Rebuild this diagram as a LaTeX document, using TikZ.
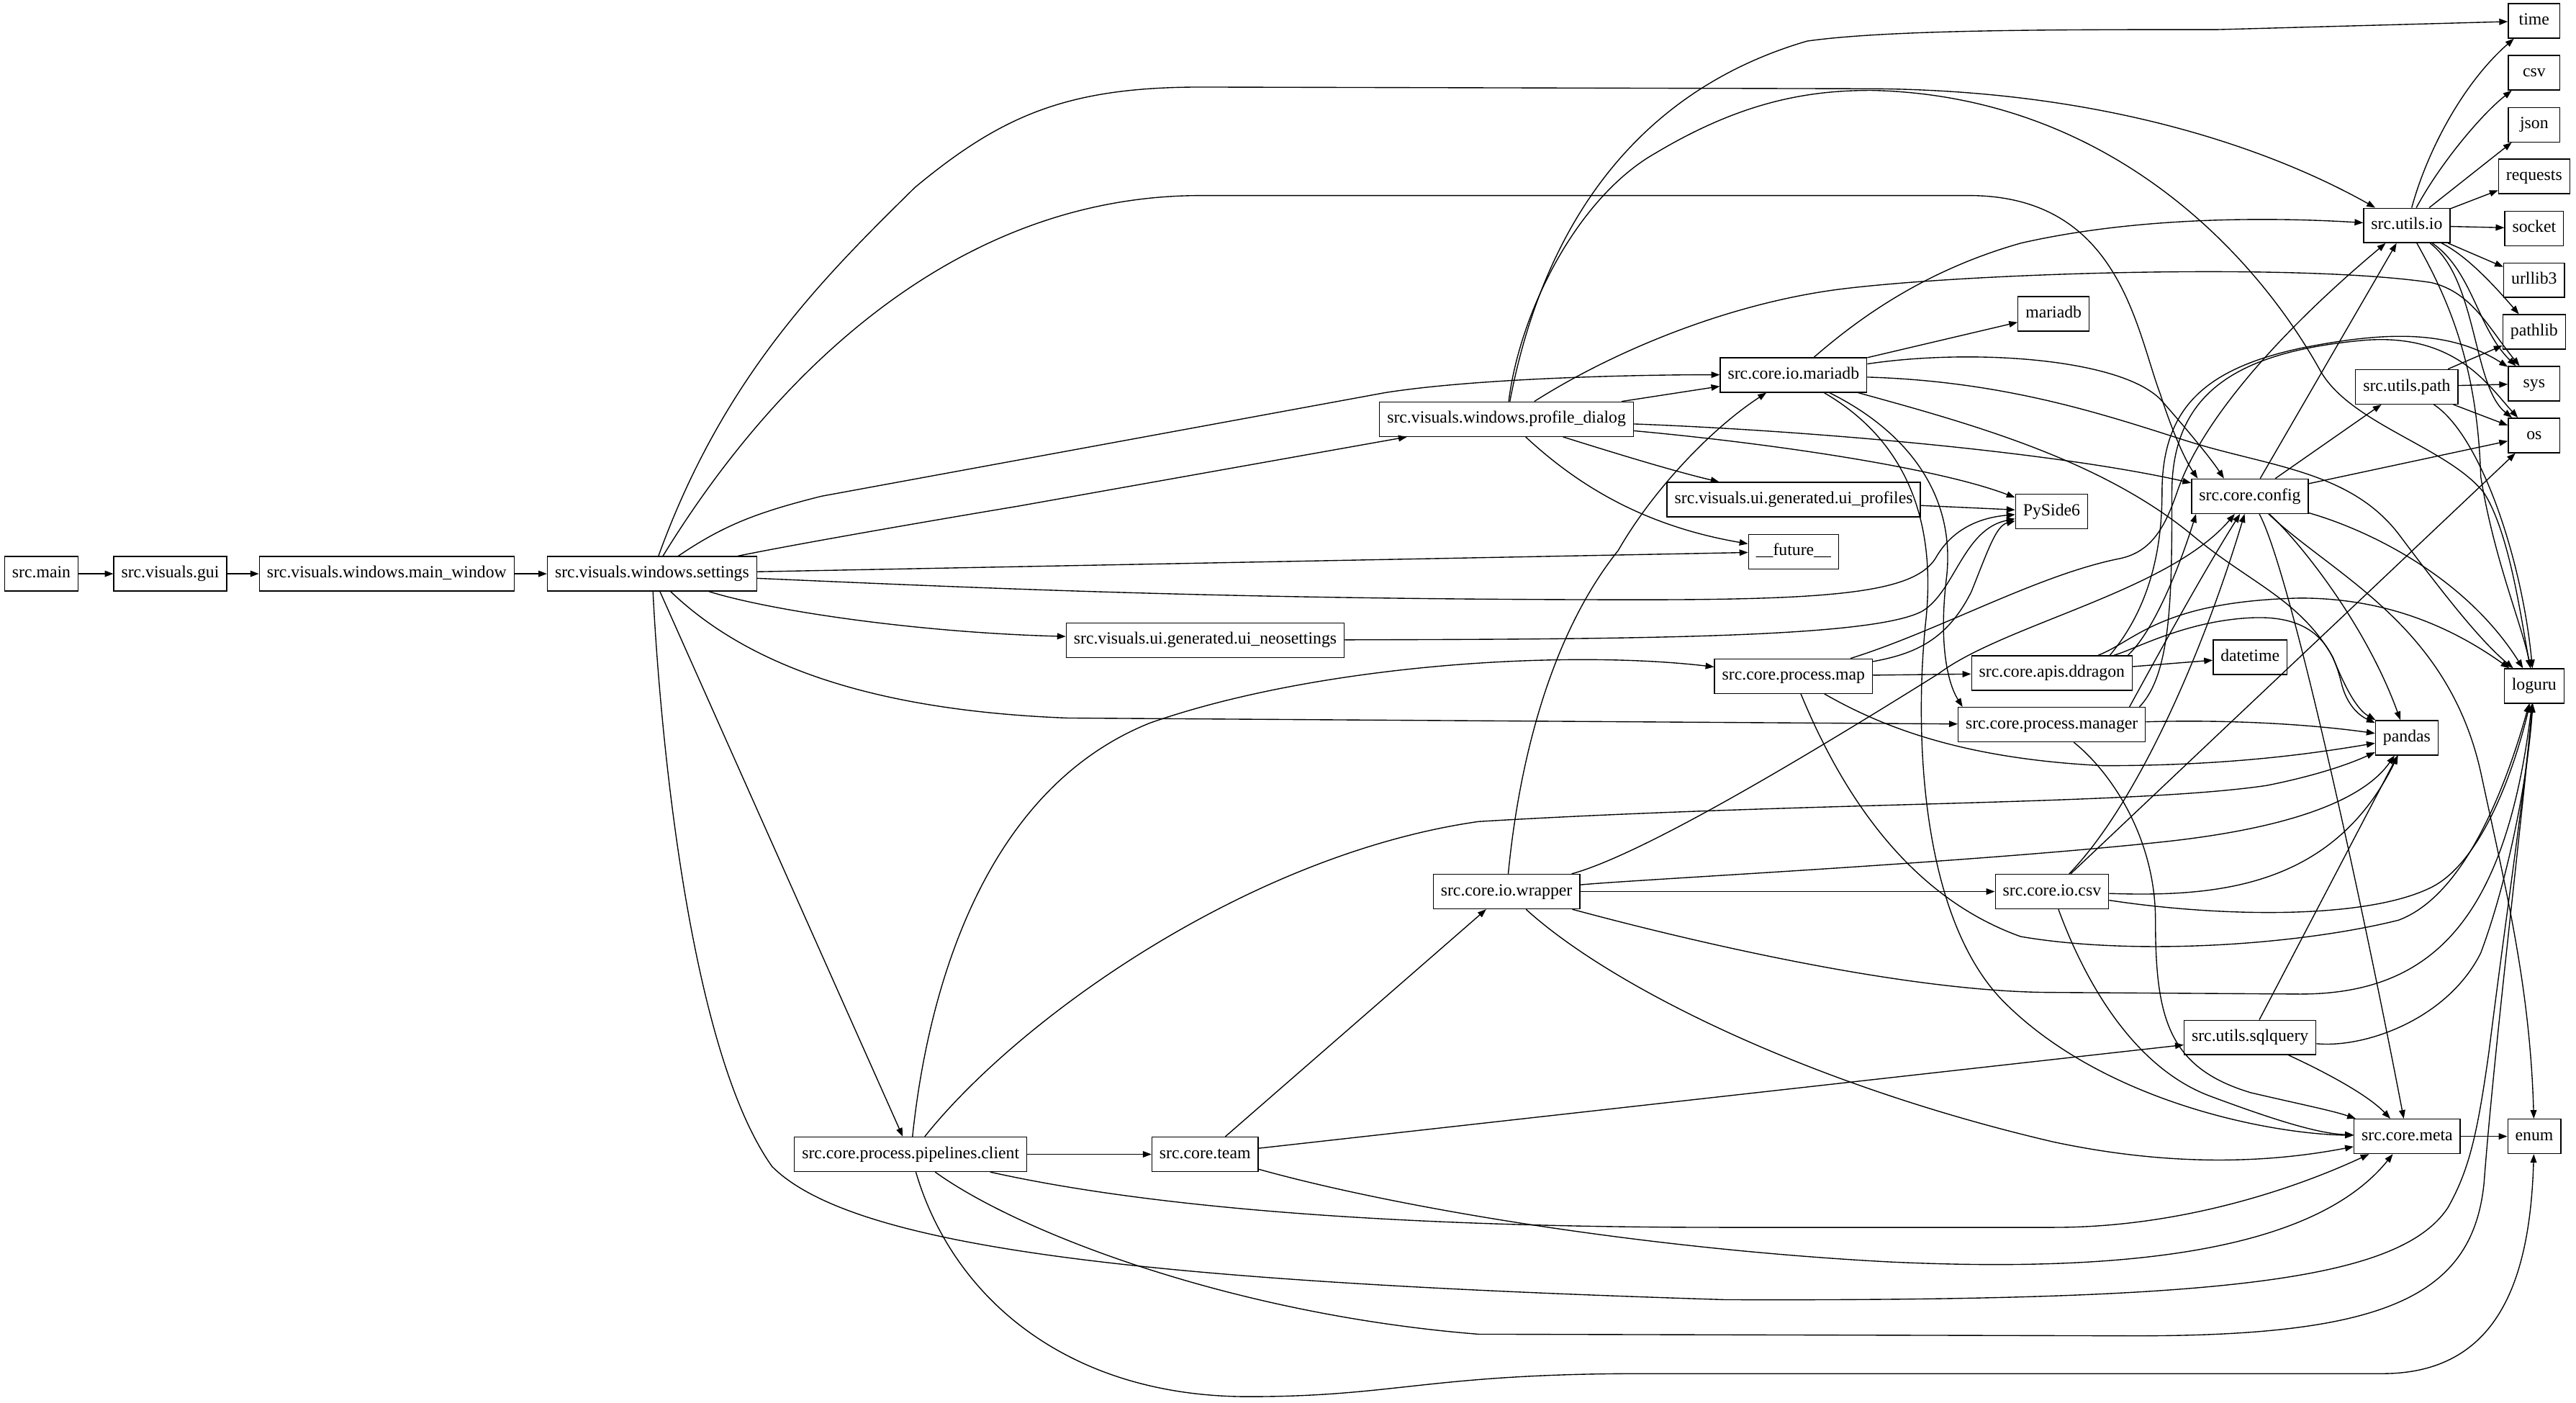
\documentclass[tikz,border=0pt]{standalone}
\usepackage{fontspec}
\setmainfont{Liberation Serif}
\usetikzlibrary{arrows.meta}

\begin{document}
\begin{tikzpicture}[
        x=1pt, y=-1pt,
        mod/.style={
            draw,
            line width=0.6pt,
            minimum height=21pt,
            minimum width=31.5pt,
            inner xsep=4.6pt,
            inner ysep=0pt,
            text height=7.2pt,
            text depth=2.2pt,
            font=\fontsize{10.4}{12}\selectfont
        },
        dep/.style={-{Triangle[length=5.2pt,width=3.8pt]}, line width=0.6pt}
    ]
        \path[use as bounding box, fill=white] (0,0) rectangle (1568,853.5);

        \node[mod] (main) at (25.2,349.2) {src.main};
        \node[mod] (gui) at (103.6,349.2) {src.visuals.gui};
        \node[mod] (mainwin) at (235.4,349.2) {src.visuals.windows.main\_window};
        \node[mod] (settings) at (396.9,349.2) {src.visuals.windows.settings};
        \node[mod] (profdlg) at (917,255.1) {src.visuals.windows.profile\_dialog};
        \node[mod] (iomaria) at (1091.7,228.2) {src.core.io.mariadb};
        \node[mod] (mariadb) at (1250,191) {mariadb};
        \node[mod] (uiprof) at (1091.8,304.1) {src.visuals.ui.generated.ui\_profiles};
        \node[mod] (pyside) at (1248.8,311.3) {PySide6};
        \node[mod] (future) at (1091.7,335.7) {\_\_future\_\_};
        \node[mod] (uineo) at (733.6,389.6) {src.visuals.ui.generated.ui\_neosettings};
        \node[mod] (pmap) at (1091.7,411.5) {src.core.process.map};
        \node[mod] (ddragon) at (1249,409.6) {src.core.apis.ddragon};
        \node[mod] (datetime) at (1369.6,400) {datetime};
        \node[mod] (pman) at (1248.9,441) {src.core.process.manager};
        \node[mod] (config) at (1369.5,302) {src.core.config};
        \node[mod] (uio) at (1465,137.2) {src.utils.io};
        \node[mod] (upath) at (1465,235.4) {src.utils.path};
        \node[mod] (loguru) at (1542.5,417.5) {loguru};
        \node[mod] (pandas) at (1465,449) {pandas};
        \node[mod] (wrapper) at (917,542.6) {src.core.io.wrapper};
        \node[mod] (iocsv) at (1249,542.6) {src.core.io.csv};
        \node[mod] (sqlq) at (1369.6,631.4) {src.utils.sqlquery};
        \node[mod] (meta) at (1465.2,691.6) {src.core.meta};
        \node[mod] (enum) at (1542.6,691.6) {enum};
        \node[mod] (client) at (554.3,702.5) {src.core.process.pipelines.client};
        \node[mod] (team) at (733.5,702.5) {src.core.team};
        \foreach \n/\y in {time/12.7, csv/44.3, json/75.9, requests/107.4, socket/139, urllib3/170.5, pathlib/202, sys/233.5, os/265}
            \node[mod] (lib-\n) at (1542.5,\y) {\n};

        \draw[dep] (main) -- (gui);
        \draw[dep] (gui) -- (mainwin);
        \draw[dep] (mainwin) -- (settings);

        \draw[dep] (settings) .. controls (440,230) and (500,170) .. (557,114) .. controls (610,70) and (650,53) .. (731,53) -- (1139,54) .. controls (1290,55) and (1390,95) .. (uio);
        \draw[dep] (settings) .. controls (470,230) and (580,119) .. (731,119) -- (1200,119) .. controls (1290,120) and (1300,200) .. (1315,240) .. controls (1322,262) and (1330,280) .. ([xshift=4pt]config.north west);
        \draw[dep] (settings) .. controls (440,320) and (460,312) .. (500,302) -- (843,239) .. controls (900,230) and (1000,228) .. (iomaria);
        \draw[dep] (settings) .. controls (480,332) and (560,318) .. (620,308) -- (profdlg);
        \draw[dep] (settings) -- (future);
        \draw[dep] (settings) .. controls (600,358) and (750,365) .. (1000,365) .. controls (1120,365) and (1165,360) .. (1178,340) .. controls (1188,322) and (1205,315) .. (pyside);
        \draw[dep] (settings) .. controls (470,372) and (560,385) .. (uineo);
        \draw[dep] (settings) .. controls (450,400) and (520,432) .. (650,437) -- (pman);
        \draw[dep] (settings) -- (client);
        \draw[dep] (settings) .. controls (402,450) and (420,640) .. (470,710) .. controls (520,760) and (700,780) .. (1050,791) .. controls (1350,792) and (1460,780) .. (1490,735) .. controls (1503,712) and (1508,690) .. (1515,640) .. controls (1525,560) and (1537,480) .. (loguru);

        \draw[dep] (profdlg) .. controls (935,160) and (980,60) .. (1100,25) .. controls (1150,18) and (1250,18) .. (1350,18) -- (lib-time);
        \draw[dep] (profdlg) .. controls (925,190) and (960,120) .. (1008,93) .. controls (1060,62) and (1100,55) .. (1139,55) .. controls (1280,58) and (1370,150) .. (1412,225) .. controls (1430,258) and (1490,272) .. (1512,300) .. controls (1528,325) and (1535,380) .. (loguru);
        \draw[dep] (profdlg) .. controls (980,215) and (1050,185) .. (1120,176) .. controls (1200,166) and (1400,160) .. (1480,172) .. controls (1505,178) and (1515,200) .. (lib-sys);
        \draw[dep] (profdlg) -- (iomaria);
        \draw[dep] (profdlg) .. controls (990,278) and (1020,287) .. (uiprof);
        \draw[dep] (profdlg) .. controls (960,295) and (1000,320) .. (future);
        \draw[dep] (profdlg) .. controls (1080,270) and (1180,285) .. (pyside);
        \draw[dep] (profdlg) .. controls (1100,262) and (1250,275) .. (config);

        \draw[dep] (uiprof) -- (pyside);
        \draw[dep] (uineo) .. controls (1000,389) and (1140,388) .. (1170,372) .. controls (1190,360) and (1195,322) .. (pyside);

        \draw[dep] (iomaria) -- (mariadb);
        \draw[dep] (iomaria) .. controls (1130,195) and (1170,165) .. (1230,148) .. controls (1300,132) and (1380,132) .. (uio);
        \draw[dep] (iomaria) .. controls (1200,212) and (1290,218) .. (1315,243) .. controls (1330,260) and (1345,278) .. ([xshift=20pt]config.north west);
        \draw[dep] (iomaria) .. controls (1220,232) and (1280,252) .. (1330,268) .. controls (1380,284) and (1430,286) .. (1460,325) .. controls (1490,365) and (1510,390) .. (loguru);
        \draw[dep] (iomaria) .. controls (1200,258) and (1280,280) .. (1336,327) .. controls (1370,355) and (1400,365) .. (1420,400) .. controls (1428,420) and (1435,432) .. (pandas);
        \draw[dep] (iomaria) .. controls (1160,262) and (1190,300) .. (1185,350) .. controls (1180,390) and (1185,415) .. ([xshift=3pt]pman.north west);
        \draw[dep] (iomaria) .. controls (1155,265) and (1180,310) .. (1172,380) .. controls (1165,450) and (1170,560) .. (1220,610) .. controls (1280,670) and (1380,690) .. (meta);

        \draw[dep] (pmap) -- (ddragon);
        \draw[dep] (pmap) .. controls (1165,398) and (1185,390) .. (1200,360) .. controls (1210,335) and (1215,320) .. (pyside);
        \draw[dep] (pmap) .. controls (1180,384) and (1240,350) .. (1290,340) .. controls (1310,336) and (1318,320) .. (1325,300) .. controls (1340,255) and (1390,200) .. (uio);
        \draw[dep] (pmap) .. controls (1150,445) and (1200,462) .. (1280,466) .. controls (1350,466) and (1400,460) .. (pandas);
        \draw[dep] (pmap) .. controls (1120,480) and (1160,545) .. (1230,570) .. controls (1300,582) and (1400,575) .. (1460,560) .. controls (1500,545) and (1525,480) .. (loguru);

        \draw[dep] (ddragon) -- (datetime);
        \draw[dep] ([xshift=-3pt]ddragon.north east) .. controls (1310,385) and (1325,350) .. ([xshift=3pt]config.south west);
        \draw[dep] ([xshift=-14pt]ddragon.north east) .. controls (1300,380) and (1316,350) .. (1316,300) .. controls (1316,250) and (1340,225) .. (1400,212) .. controls (1450,202) and (1490,200) .. (lib-sys);
        \draw[dep] (ddragon) .. controls (1300,390) and (1315,366) .. (1400,364) .. controls (1450,364) and (1490,380) .. (loguru);
        \draw[dep] (ddragon) .. controls (1300,395) and (1330,378) .. (1370,376) .. controls (1410,374) and (1420,395) .. (1425,415) .. controls (1428,428) and (1435,435) .. (pandas);

        \draw[dep] (pman) .. controls (1350,438) and (1400,440) .. (pandas);
        \draw[dep] (pman) .. controls (1285,470) and (1312,510) .. (1312,560) .. controls (1312,620) and (1320,650) .. (1370,665) .. controls (1400,672) and (1420,676) .. (meta);
        \draw[dep] ([xshift=-10pt]pman.north east) .. controls (1310,405) and (1340,350) .. ([xshift=-6pt]config.south);
        \draw[dep] ([xshift=-4pt]pman.north east) .. controls (1322,410) and (1322,360) .. (1322,300) .. controls (1322,240) and (1360,214) .. (1440,207) .. controls (1495,203) and (1515,235) .. (lib-os);

        \draw[dep] (config) -- (uio);
        \draw[dep] (config) -- (upath);
        \draw[dep] (config) -- (lib-os);
        \draw[dep] (config) .. controls (1440,322) and (1500,350) .. (loguru);
        \draw[dep] (config) .. controls (1400,330) and (1440,380) .. (pandas);
        \draw[dep] (config) .. controls (1395,350) and (1440,560) .. (meta);
        \draw[dep] (config) .. controls (1420,350) and (1490,380) .. (1510,470) .. controls (1525,540) and (1540,600) .. (enum);

        \draw[dep] (uio) .. controls (1478,90) and (1500,50) .. (lib-time);
        \draw[dep] (uio) .. controls (1485,100) and (1510,70) .. (lib-csv);
        \draw[dep] (uio) -- (lib-json);
        \draw[dep] (uio) -- (lib-requests);
        \draw[dep] (uio) -- (lib-socket);
        \draw[dep] (uio) -- (lib-urllib3);
        \draw[dep] (uio) .. controls (1500,155) and (1515,170) .. (lib-pathlib);
        \draw[dep] (uio) .. controls (1505,165) and (1508,200) .. (lib-sys);
        \draw[dep] (uio) .. controls (1508,170) and (1505,235) .. (lib-os);
        \draw[dep] (uio) .. controls (1492,185) and (1508,225) .. (1510,290) .. controls (1518,340) and (1535,380) .. (loguru);

        \draw[dep] (upath) -- (lib-pathlib);
        \draw[dep] (upath) -- (lib-sys);
        \draw[dep] (upath) -- (lib-os);
        \draw[dep] (upath) .. controls (1510,265) and (1535,340) .. (loguru);

        \draw[dep] (wrapper) .. controls (925,460) and (945,385) .. (985,335) .. controls (1005,300) and (1040,262) .. (iomaria);
        \draw[dep] (wrapper) .. controls (1000,520) and (1100,460) .. (1180,410) .. controls (1220,380) and (1320,360) .. (config);
        \draw[dep] (wrapper) .. controls (1000,535) and (1200,525) .. (1320,512) .. controls (1400,503) and (1440,485) .. (pandas);
        \draw[dep] (wrapper) -- (iocsv);
        \draw[dep] (wrapper) .. controls (1000,565) and (1150,604) .. (1250,604) -- (1400,605) .. controls (1480,605) and (1525,560) .. (loguru);
        \draw[dep] (wrapper) .. controls (980,600) and (1100,660) .. (1250,695) .. controls (1330,712) and (1390,706) .. (meta);

        \draw[dep] (iocsv) .. controls (1300,490) and (1340,400) .. (config);
        \draw[dep] (iocsv) -- (lib-os);
        \draw[dep] (iocsv) .. controls (1350,546) and (1420,540) .. (pandas);
        \draw[dep] (iocsv) .. controls (1350,558) and (1440,560) .. (1480,540) .. controls (1510,525) and (1530,470) .. (loguru);
        \draw[dep] (iocsv) .. controls (1270,600) and (1300,650) .. (1345,667) .. controls (1380,680) and (1410,690) .. (meta);

        \draw[dep] (sqlq) -- (pandas);
        \draw[dep] (sqlq) .. controls (1410,650) and (1440,665) .. (meta);
        \draw[dep] (sqlq) .. controls (1440,638) and (1490,620) .. (1510,580) .. controls (1525,540) and (1538,480) .. (loguru);

        \draw[dep] (meta) -- (enum);

        \draw[dep] (team) -- (wrapper);
        \draw[dep] (team) -- (sqlq);
        \draw[dep] (team) .. controls (850,735) and (1000,760) .. (1150,768) .. controls (1300,775) and (1410,760) .. (meta);

        \draw[dep] (client) -- (team);
        \draw[dep] (client) .. controls (565,600) and (600,480) .. (700,440) .. controls (800,405) and (950,395) .. (pmap);
        \draw[dep] (client) .. controls (620,620) and (760,520) .. (900,500) .. controls (1100,488) and (1300,490) .. (1380,478) .. controls (1410,472) and (1430,465) .. (pandas);
        \draw[dep] (client) .. controls (700,735) and (850,747) .. (1050,747) -- (1250,747) .. controls (1330,747) and (1400,722) .. (meta);
        \draw[dep] (client) .. controls (620,750) and (750,800) .. (900,812) -- (1300,813) .. controls (1450,813) and (1505,790) .. (1512,720) .. controls (1518,640) and (1535,500) .. (loguru);
        \draw[dep] (client) .. controls (580,790) and (650,850) .. (760,850) .. controls (850,850) and (870,836) .. (1000,836) -- (1450,836) .. controls (1520,836) and (1540,780) .. (enum);
    \end{tikzpicture}
\end{document}
